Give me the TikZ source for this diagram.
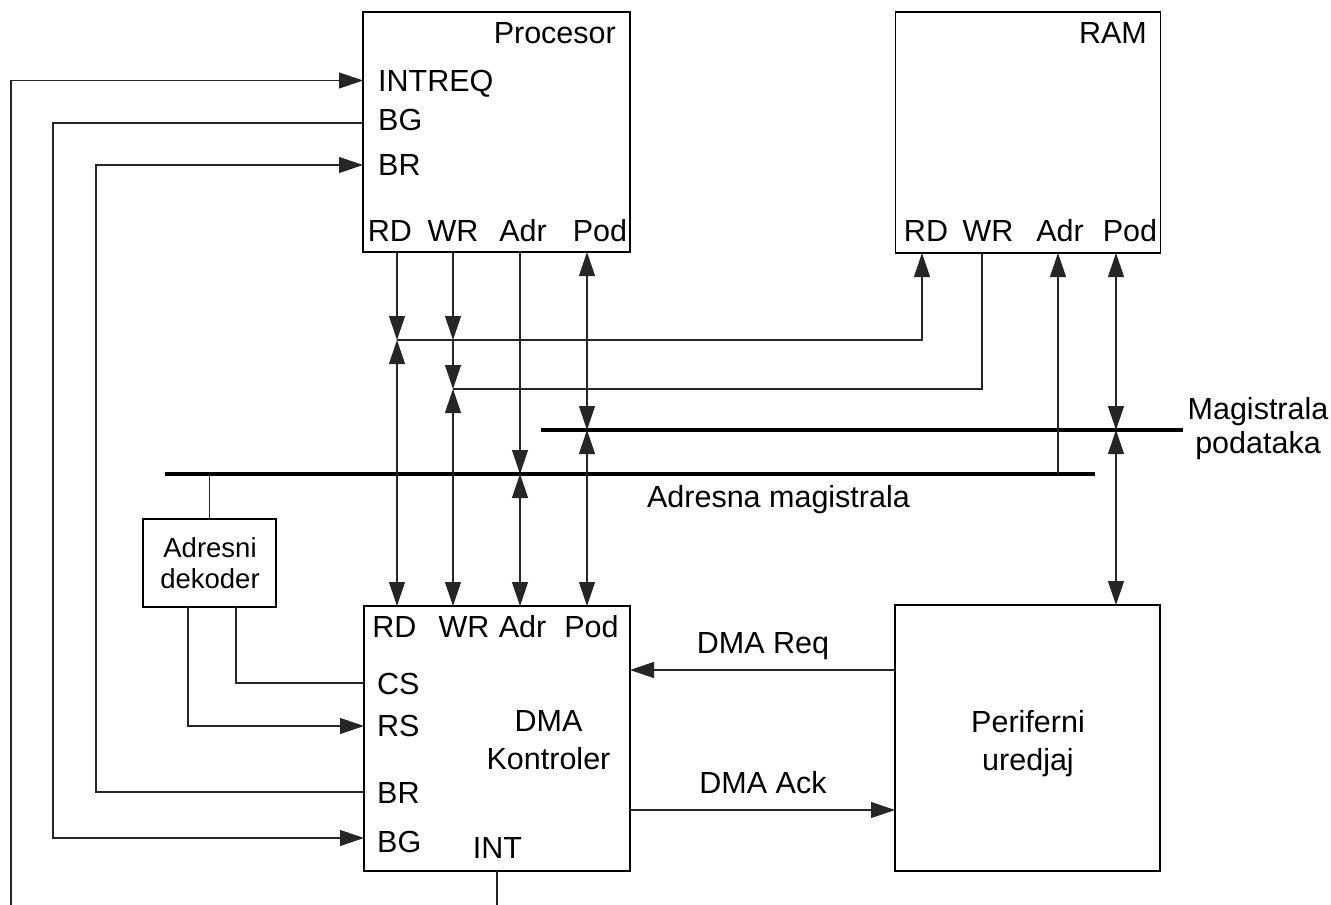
\documentclass[tikz,border=0pt]{standalone}
\usepackage{fontspec}
\setmainfont{Liberation Sans}
\usetikzlibrary{arrows.meta,calc}
\begin{document}
\begin{tikzpicture}[x=1pt,y=-1pt,
  >={Triangle[length=24pt,width=16pt]},
  box/.style={draw=black,line width=1.3pt,inner sep=0pt,outer sep=0pt},
  wire/.style={line width=1.1pt,draw=black!85},
  bus/.style={line width=3.6pt,draw=black},
  lbl/.style={inner sep=0pt,font=\fontsize{30.5}{38}\selectfont},
  small/.style={inner sep=0pt,font=\fontsize{27.5}{31}\selectfont}]
\useasboundingbox (0,0) rectangle (1331,905);

% boxes
\node[box,minimum width=267pt,minimum height=240pt] (proc) at (496.5,132) {};
\node[box,minimum width=265pt,minimum height=241pt] (ram) at (1028,132.5) {};
\node[box,minimum width=266pt,minimum height=265pt] (dma) at (497,738.5) {};
\node[box,minimum width=265pt,minimum height=266pt] (per) at (1027.5,738) {};
\node[box,minimum width=133pt,minimum height=88pt] (dec) at (209.5,563) {};

% processor texts
\node[lbl,anchor=base east] (tProc) at (616,43) {Procesor};
\node[lbl,anchor=base west] (tIntreq) at (378,91) {INTREQ};
\node[lbl,anchor=base west] (tPBG) at (378,130) {BG};
\node[lbl,anchor=base west] (tPBR) at (378,175) {BR};
\node[lbl,anchor=base] (tPRD) at (390,241) {RD};
\node[lbl,anchor=base] (tPWR) at (453,241) {WR};
\node[lbl,anchor=base] (tPAdr) at (523,241) {Adr};
\node[lbl,anchor=base] (tPPod) at (600,241) {Pod};

% RAM texts
\node[lbl,anchor=base east] (tRam) at (1147,43) {RAM};
\node[lbl,anchor=base] (tRRD) at (926,241) {RD};
\node[lbl,anchor=base] (tRWR) at (988,241) {WR};
\node[lbl,anchor=base] (tRAdr) at (1060,241) {Adr};
\node[lbl,anchor=base] (tRPod) at (1130,241) {Pod};

% DMA texts
\node[lbl,anchor=base] (tDRD) at (394.5,637) {RD};
\node[lbl,anchor=base] (tDWR) at (464,637) {WR};
\node[lbl,anchor=base] (tDAdr) at (522.5,637) {Adr};
\node[lbl,anchor=base] (tDPod) at (591.5,637) {Pod};
\node[lbl,anchor=base west] (tCS) at (377,694) {CS};
\node[lbl,anchor=base west] (tRS) at (377,736) {RS};
\node[lbl,anchor=base west] (tDBR) at (377,803) {BR};
\node[lbl,anchor=base west] (tDBG) at (377,852) {BG};
\node[lbl,anchor=base] (tInt) at (497.5,858) {INT};
\node[lbl,anchor=north,align=center] (tDma) at (548.5,710) {DMA\\Kontroler};

% peripheral
\node[lbl,anchor=north,align=center] (tPer) at (1028,710) {Periferni\\uredjaj};

% decoder
\node[small,anchor=north,align=center] (tDec) at (210,537) {Adresni\\dekoder};

% bus labels
\node[lbl,anchor=base] (tAB) at (778.5,507) {Adresna magistrala};
\node[lbl,anchor=north,align=center,font=\fontsize{30.5}{34}\selectfont] (tDB) at (1258,397) {Magistrala\\podataka};
\node[lbl,anchor=base] (tReq) at (763,653) {DMA Req};
\node[lbl,anchor=base] (tAck) at (763,793) {DMA Ack};

% columns and rows
\coordinate (kRD) at (397,0);
\coordinate (kWR) at (453,0);
\coordinate (kAdr) at (520,0);
\coordinate (kPod) at (587,0);
\coordinate (kRRD) at (922,0);
\coordinate (kRWR) at (982,0);
\coordinate (kRAdr) at (1058,0);
\coordinate (kRPod) at (1116,0);
\coordinate (kCS) at (236,0);
\coordinate (kRS) at (188,0);
\coordinate (kL2) at (53,0);
\coordinate (kL3) at (96,0);
\coordinate (rRD) at (0,340);
\coordinate (rWR) at (0,389);
\coordinate (rDB) at (0,430);
\coordinate (rAB) at (0,474);
\coordinate (rIntreq) at (0,80.5);
\coordinate (rPBG) at (0,123);
\coordinate (rPBR) at (0,165);
\coordinate (rCS) at (0,683);
\coordinate (rRS) at (0,726);
\coordinate (rBR) at (0,792);
\coordinate (rBG) at (0,838);
\coordinate (rReq) at (0,670);
\coordinate (rAck) at (0,810);
\coordinate (dbL) at (541,430);
\coordinate (dbR) at (1183,430);
\coordinate (abL) at (165,474);
\coordinate (abR) at (1095,474);
\coordinate (botL) at (11,905);
\coordinate (botI) at (497,905);

% buses
\draw[bus] (dbL) -- (dbR);
\draw[bus] (abL) -- (abR);

% RD
\draw[wire,->] (proc.south -| kRD) -- (kRD |- rRD);
\draw[wire,<->] (kRD |- rRD) -- (dma.north -| kRD);
\draw[wire,->] (kRD |- rRD) -| (ram.south -| kRRD);
% WR
\draw[wire,->] (proc.south -| kWR) -- (kWR |- rRD);
\draw[wire,->] (kWR |- rRD) -- (kWR |- rWR);
\draw[wire,<->] (kWR |- rWR) -- (dma.north -| kWR);
\draw[wire] (ram.south -| kRWR) |- (kWR |- rWR);
% Adr
\draw[wire,->] (proc.south -| kAdr) -- (kAdr |- rAB);
\draw[wire,<->] (kAdr |- rAB) -- (dma.north -| kAdr);
\draw[wire,->] (kRAdr |- rAB) -- (ram.south -| kRAdr);
% Pod
\draw[wire,<->] (proc.south -| kPod) -- (kPod |- rDB);
\draw[wire,<->] (kPod |- rDB) -- (dma.north -| kPod);
\draw[wire,<->] (ram.south -| kRPod) -- (kRPod |- rDB);
\draw[wire,<->] (kRPod |- rDB) -- (per.north -| kRPod);

% decoder
\draw[wire] (dec.north) -- (dec.north |- rAB);
\draw[wire] (dec.south -| kCS) |- (dma.west |- rCS);
\draw[wire,->] (dec.south -| kRS) |- (dma.west |- rRS);

% left control lines
\draw[wire,->] (botL) |- (proc.west |- rIntreq);
\draw[wire,->] (proc.west |- rPBG) -| (kL2 |- rBG) -- (dma.west |- rBG);
\draw[wire,->] (dma.west |- rBR) -| (kL3 |- rPBR) -- (proc.west |- rPBR);
\draw[wire] (dma.south -| botI) -- (botI);

% DMA req / ack
\draw[wire,->] (per.west |- rReq) -- (dma.east |- rReq);
\draw[wire,->] (dma.east |- rAck) -- (per.west |- rAck);
\end{tikzpicture}
\end{document}
